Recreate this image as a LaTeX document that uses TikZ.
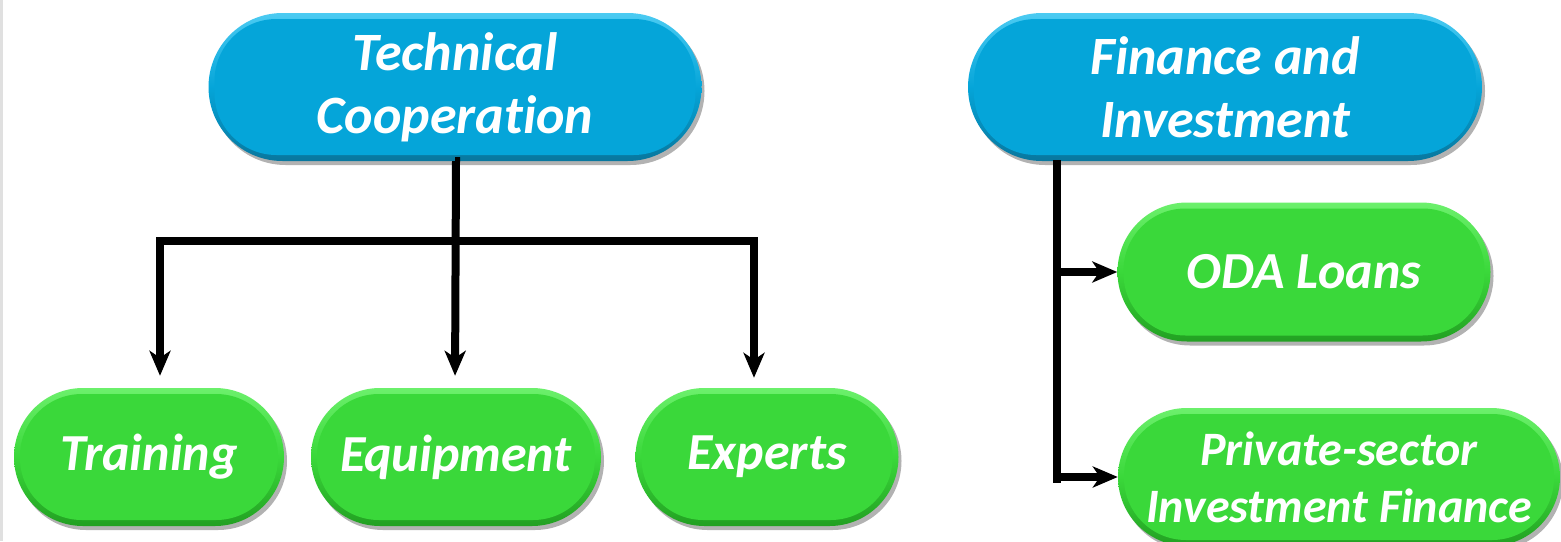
\documentclass[tikz,border=0pt]{standalone}
\usepackage{fontspec}
\setmainfont{Carlito}[Ligatures=CommonOff]
\usetikzlibrary{shapes.misc,arrows.meta,shadows}
\definecolor{pillblue}{HTML}{05A5D9}
\definecolor{pillbluelight}{HTML}{4CCBF2}
\definecolor{pillbluedark}{HTML}{08779E}
\definecolor{pillgreen}{HTML}{3AD83A}
\definecolor{pillgreenlight}{HTML}{6CF06C}
\definecolor{pillgreendark}{HTML}{22A022}
\tikzset{
  pill/.style n args={3}{rounded rectangle, text=white, align=center,
    font=\bfseries\itshape\fontsize{54}{63}\selectfont, inner sep=0pt,
    top color=#2, bottom color=#3, middle color=#1,
    drop shadow={shadow xshift=3pt, shadow yshift=-4pt, opacity=0.3, fill=black},
    path picture={\fill[#1, rounded corners=62pt]
      ([xshift=6pt,yshift=-6pt]path picture bounding box.north west) rectangle
      ([xshift=-6pt,yshift=6pt]path picture bounding box.south east);}},
  bluepill/.style={pill={pillblue}{pillbluelight}{pillbluedark}},
  greenpill/.style={pill={pillgreen}{pillgreenlight}{pillgreendark}},
  conn/.style={line width=8pt, black},
  arr/.style={conn, -{Stealth[length=25pt,width=21pt,inset=7pt]}},
}
\begin{document}
\begin{tikzpicture}[x=1pt,y=-1pt]
\clip (0,0) rectangle (1561,541);
\fill[white] (0,0) rectangle (1561,541);
\draw[black!12, line width=3pt] (1.5,0) -- (1.5,541);

\node[bluepill, minimum width=493pt, minimum height=148pt] (tc) at (455,87) {Technical\\Cooperation};
\node[bluepill, minimum width=514pt, minimum height=148pt] (fi) at (1225,87) {Finance and\\Investment};

\node[greenpill, minimum width=270pt, minimum height=138pt, font=\bfseries\itshape\fontsize{52}{60}\selectfont] (tr) at (149,457) {Training};
\node[greenpill, minimum width=290pt, minimum height=138pt, font=\bfseries\itshape\fontsize{52}{60}\selectfont] (eq) at (456,457) {Equipment};
\node[greenpill, minimum width=263pt, minimum height=138pt, font=\bfseries\itshape\fontsize{52}{60}\selectfont] (ex) at (767,457) {Experts};

\node[greenpill, minimum width=373pt, minimum height=139pt, font=\bfseries\itshape\fontsize{52}{60}\selectfont] (oda) at (1304,272) {ODA Loans};
\node[greenpill, minimum width=442pt, minimum height=138pt, font=\bfseries\itshape\fontsize{48}{57}\selectfont] (pri) at (1339,477) {Private-sector\\Investment Finance};

% left tree
\coordinate (bl) at (160,241);
\coordinate (br) at (754,241);
\draw[arr, shorten >=12pt] (tc.south) -- (eq.north |- tc.south) -- ([xshift=-1pt]eq.north);
\draw[conn] ([xshift=-4pt]bl) -- ([xshift=4pt]br);
\draw[arr, shorten >=12pt] ([yshift=-4pt]bl) -- (bl |- tr.north);
\draw[arr, shorten >=10pt] ([yshift=-4pt]br) -- (br |- ex.north);

% right tree
\coordinate (ft) at (1057,160);
\coordinate (fb) at (1057,483);
\draw[conn] (ft) -- (fb);
\draw[arr] ([xshift=3pt]ft |- oda.west) -- (oda.west);
\draw[arr] ([xshift=3pt]fb |- pri.west) -- (pri.west);
\end{tikzpicture}
\end{document}
